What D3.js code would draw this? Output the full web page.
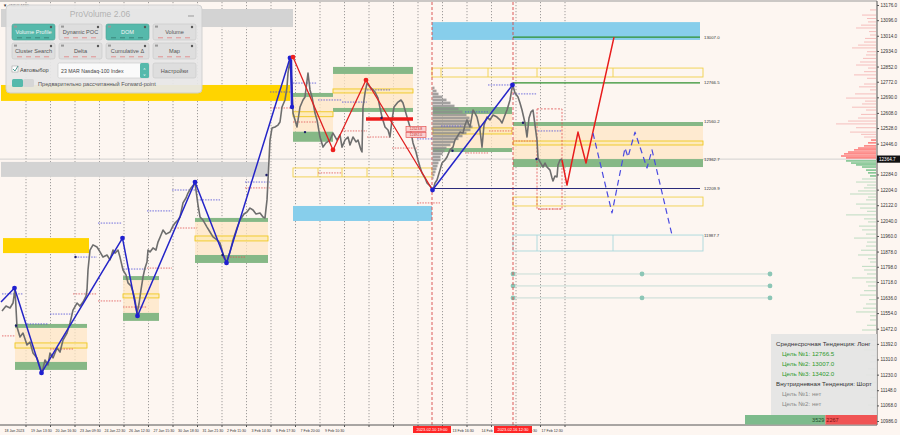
<!DOCTYPE html>
<html>
<head>
<meta charset="utf-8">
<script src="https://cdn.jsdelivr.net/npm/d3@7"></script>
<style>
  body { margin: 0; background: #fdf6f1; }
  svg text { font-family: "Liberation Sans", "DejaVu Sans", Arial, sans-serif; }
</style>
</head>
<body>
<svg id="chart" width="900" height="435"></svg>
<script>
// ---- data (bar index on x, price on y) ----
const yTicks = [13176, 13096, 13014, 12934, 12852, 12772, 12690, 12608, 12528, 12446, 12284, 12204, 12122,
  12040, 11960, 11878, 11798, 11718, 11636, 11554, 11472, 11392, 11310, 11230, 11148, 11068, 10986];
const lastPrice = 12364.7;

const timeTicks = [[-3, '18 Jan 2023'], [50, '19 Jan 13:30'], [99, '20 Jan 16:30'], [148, '23 Jan 09:30'],
  [197, '24 Jan 22:30'], [246, '26 Jan 12:30'], [295, '27 Jan 15:30'], [344, '30 Jan 18:30'],
  [393, '31 Jan 21:30'], [442, '2 Feb 11:30'], [491, '3 Feb 14:30'], [540, '6 Feb 17:30'],
  [589, '7 Feb 20:00'], [638, '9 Feb 10:30'], [893, '13 Feb 16:30'], [951, '14 Feb'],
  [1052, ':30'], [1071, '17 Feb 12:30']];
const gridBars = [50, 99, 148, 197, 246, 295, 344, 393, 442, 491, 540, 589, 638, 687, 736, 785, 834,
  883, 932, 981, 1030, 1079, 1128];
const markedDates = [[862, '2023.02.10 19:00'], [1024, '2023.02.16 12:30']];

const price = [[2,11565],[10,11591],[18,11581],[24,11607],[28,11681],[32,11481],[38,11428],[44,11449],[52,11386],
  [58,11402],[64,11344],[72,11318],[78,11270],[82,11239],[88,11307],[94,11281],[98,11344],[104,11318],[112,11370],
  [118,11349],[124,11412],[132,11449],[138,11502],[144,11570],[152,11607],[158,11591],[164,11612],[170,11644],
  [172,11676],[174,11781],[178,11886],[184,11913],[192,11902],[198,11876],[204,11849],[212,11860],[218,11834],
  [224,11886],[228,11870],[234,11886],[238,11849],[244,11781],[250,11755],[254,11713],[260,11697],[264,11665],
  [268,11623],[272,11554],[276,11602],[280,11676],[284,11744],[288,11792],[292,11823],[294,11886],[298,11876],
  [304,11897],[310,11886],[314,11928],[320,11965],[324,11991],[330,11970],[338,11981],[344,12013],[348,12028],
  [354,12044],[358,12060],[364,12134],[370,12160],[374,12186],[380,12213],[388,12239],[394,12123],[398,12060],
  [404,12044],[412,12007],[418,11981],[424,11955],[432,11939],[438,11923],[442,11886],[446,11844],[452,11823],
  [458,11876],[464,11939],[472,12002],[478,12044],[486,12076],[492,12086],[498,12107],[504,12097],[510,12076],
  [518,12081],[524,12060],[528,12055],[532,12150],[534,12255],[538,12465],[542,12528],[548,12534],[554,12544],
  [558,12560],[562,12639],[568,12676],[572,12744],[574,12818],[578,12886],[582,12744],[584,12607],[588,12571],
  [592,12534],[598,12639],[604,12676],[608,12692],[614,12818],[618,12729],[622,12692],[628,12607],[632,12571],
  [638,12481],[644,12428],[650,12450],[658,12465],[664,12502],[672,12465],[678,12492],[682,12428],[688,12465],
  [694,12481],[698,12439],[704,12481],[710,12455],[714,12465],[720,12413],[722,12402],[724,12639],[728,12713],
  [732,12765],[738,12744],[744,12729],[748,12718],[754,12686],[758,12634],[762,12586],[768,12534],[774,12518],
  [778,12481],[782,12571],[786,12639],[794,12665],[800,12676],[804,12660],[808,12623],[812,12586],[818,12534],
  [824,12450],[830,12402],[834,12360],[838,12323],[842,12292],[848,12265],[852,12239],[858,12223],[864,12202],
  [868,12239],[872,12255],[878,12307],[882,12344],[888,12360],[892,12376],[898,12413],[904,12428],[908,12465],
  [912,12481],[918,12507],[924,12502],[928,12544],[932,12571],[938,12534],[944,12623],[948,12607],[952,12586],
  [958,12518],[962,12428],[966,12544],[972,12586],[978,12571],[984,12597],[992,12586],[998,12571],[1002,12555],
  [1008,12597],[1012,12623],[1018,12676],[1022,12739],[1024,12750],[1028,12713],[1034,12692],[1038,12660],
  [1042,12623],[1048,12555],[1052,12481],[1056,12581],[1060,12613],[1064,12623],[1068,12544],[1072,12465],
  [1074,12371],[1078,12350],[1084,12323],[1088,12344],[1092,12323],[1098,12307],[1102,12265],[1104,12250],
  [1108,12276],[1112,12271],[1114,12334],[1118,12360],[1122,12365]];

const blueSwing = [[0,11612],[27,11686],[81,11239],[243,11949],[273,11539],[388,12244],[451,11818],[578,12897]];
const blueSwing2 = [[863,12202],[1023,12755]];
const blueSpike = [[580,12886],[582,12639]];
const redSwing = [[584,12902],[664,12413],[730,12781],[863,12202]];
const redForecast = [[1122,12360],[1132,12228],[1154,12507],[1170,12344],[1226,13007]];
const blueForecast = [[1184,12502],[1222,12081],[1248,12423],[1254,12376],[1268,12507],[1292,12318],
  [1302,12413],[1342,11965]];
const navyMarks = [[30,11488],[149,11849],[443,11860],[531,12281],[608,12507],[761,12581],[903,12409],
  [1044,12556],[1071,12365]];

const grayBands = [[0, 584, 13155, 13060], [0, 534, 12350, 12271]];
const goldBands = [[0, 578, 12755, 12671], [4, 176, 11949, 11870]];
const blueBands = [[584, 862, 12118, 12039], [862, 1398, 13086, 12992]];

// value areas: bars, upper green, POC, lower green
const valueAreas = [
  { from: 28, to: 172, top: [11497, 11476], poc: [11397, 11370], bot: [11297, 11255] },
  { from: 244, to: 316, top: [11749, 11728], poc: [11655, 11634], bot: [11555, 11513] },
  { from: 388, to: 534, top: [12055, 12034], poc: [11960, 11934], bot: [11860, 11818] },
  { from: 584, to: 664, top: [12713, 12692], poc: [12614, 12588], bot: [12509, 12456] },
  { from: 664, to: 824, top: [12850, 12813], poc: [12734, 12713], bot: [12634, 12613] },
  { from: 864, to: 1022, top: [12639, 12602], poc: [12529, 12497], bot: [12423, 12402] },
  { from: 1024, to: 1404, top: [12560, 12539], poc: [12460, 12439], bot: [12365, 12323] }
];
const yellowGrids = [
  { from: 584, to: 862, hi: 12318, lo: 12271, cuts: [634, 682, 732, 782] },
  { from: 862, to: 1404, hi: 12844, lo: 12797, cuts: [880, 974, 1072, 1224] },
  { from: 1024, to: 1404, hi: 12165, lo: 12118, cuts: [1072] }
];
const cyanGrid = { from: 1024, to: 1404, hi: 11965, lo: 11881, cuts: [1072, 1224] };

const greenTargets = [[1024, 1398, 13007.0], [1024, 1398, 12766.5]];
const navyLevel = [862, 1398, 12209.9];
const levelLabels = [[13007.0, '13007.0'], [12766.5, '12766.5'], [12560.2, '12560.2'], [12362.7, '12362.7'],
  [12209.9, '12209.9'], [11965, '11987.7']];
const tealLevels = [11760, 11697, 11634];
const tealDots = [[1024,11760],[1282,11760],[1538,11760],[1024,11697],[1538,11697],[1024,11634],[1282,11634],[1538,11634]];
const redBar = [730, 824, 12576];
const redBoxes = [[810, 850, 12523, '12523.8'], [810, 850, 12492, '12492.0']];
const redDashedBox = [1072, 1122, 12629, 12102];

const blueLevels = [[2,44,11655],[52,94,11497],[98,142,11549],[148,192,11849],[194,242,12028],[244,292,11786],
  [292,342,12092],[342,392,12202],[392,438,12150],[488,538,12244],[538,582,12718],[584,632,12765],[634,682,12676],
  [682,732,12665],[732,778,12729],[832,862,12471],[880,924,12539],[928,974,12613],[974,1022,12755],
  [1024,1072,12708],[1074,1122,12513]];
const redLevels = [[2,28,11434],[98,144,11365],[144,192,11655],[194,242,11618],[244,292,11586],[292,342,11791],
  [342,392,12002],[442,488,11849],[488,538,12213],[538,582,12634],[584,632,12560],[634,682,12292],
  [682,732,12513],[732,778,12481],[782,832,12423],[832,878,12134],[928,974,12397],[976,1022,12513],
  [1024,1072,12460],[1074,1122,12102]];

// session volume histogram starting at 10 Feb
const sessionProfile = [[12739,2],[12723,4],[12707,6],[12692,10],[12676,14],[12660,18],[12644,22],[12629,26],
  [12613,30],[12597,34],[12581,37],[12565,38],[12550,36],[12534,40],[12518,38],[12502,34],[12486,30],[12471,26],
  [12455,22],[12439,18],[12423,14],[12407,12],[12392,10],[12376,8],[12360,8],[12344,6],[12328,5],[12313,4],
  [12297,3],[12281,2],[12265,1]];

// right edge market profile
const rpAbove = [[13150,6],[13123,14],[13105,9],[13087,8],[13070,15],[13055,20],[13036,7],[13018,6],[13000,11],
  [12981,12],[12965,18],[12950,24],[12930,9],[12913,10],[12895,13],[12876,16],[12860,20],[12844,8],[12825,12],
  [12808,22],[12790,9],[12760,12],[12745,17],[12729,6],[12708,21],[12686,30],[12670,11],[12655,14],[12638,24],
  [12623,10],[12600,15],[12581,18],[12565,28],[12550,40],[12530,20],[12507,26],[12495,15],[12481,12]];
const rpSell = [[12465,5],[12450,8],[12434,12],[12423,18],[12413,22],[12402,28],[12392,32],[12381,35],[12371,30]];
const rpBuy = [[12355,30],[12344,25],[12334,20],[12323,14],[12307,10],[12292,8],[12276,6]];
const rpBelow = [[12260,14],[12244,20],[12228,9],[12213,12],[12197,18],[12181,26],[12165,8],[12150,10],[12128,20],
  [12107,16],[12090,9],[12071,30],[12050,12],[12034,8],[12012,17],[11992,14],[11970,10],[11949,22],[11928,9],
  [11907,10],[11885,15],[11860,18],[11840,8],[11823,6],[11800,14],[11781,12],[11760,9],[11739,24],[11718,10],
  [11697,8],[11672,12],[11649,16],[11625,7],[11602,10],[11580,13],[11560,20],[11540,6],[11518,6],[11490,9],
  [11465,14],[11440,6],[11412,8],[11385,10],[11360,12],[11330,5],[11297,6],[11260,8],[11228,10],[11190,4],
  [11149,5],[11110,6],[11070,8],[11030,4]];

const buyVolume = 3529, sellVolume = 2267;

const infoLines = [
  ['Среднесрочная Тенденция: Лонг', 'head'], ['Цель №1: 12766.5', 'good'], ['Цель №2: 13007.0', 'good'],
  ['Цель №3: 13402.0', 'good'], ['Внутридневная Тенденция: Шорт', 'head'], ['Цель №1: нет', 'none'],
  ['Цель №2: нет', 'none']
];
const panelButtons = [['Volume Profile', true], ['Dynamic POC', false], ['DOM', true], ['Volume', false],
  ['Cluster Search', false], ['Delta', false], ['Cumulative Δ', false], ['Map', false]];

// ---- drawing ----
const svg = d3.select('#chart');
const plotRight = 877, plotBottom = 425;
const x = d3.scaleLinear().domain([0, 1752]).range([1, plotRight]);
const y = d3.scaleLinear().domain([10986, 13176]).range([421, 5]);
const line = d3.line().x(d => x(d[0])).y(d => y(d[1]));

svg.append('rect').attr('width', 900).attr('height', 435).attr('fill', '#fdf6f1');

// vertical dotted grid
svg.append('g').selectAll('line').data(gridBars).join('line')
  .attr('x1', d => x(d)).attr('x2', d => x(d)).attr('y1', 2).attr('y2', plotBottom)
  .attr('stroke', '#777').attr('stroke-width', 0.7).attr('stroke-dasharray', '1.2,1.8');

function bands(arr, fill) {
  svg.append('g').selectAll('rect').data(arr).join('rect')
    .attr('x', d => x(d[0])).attr('width', d => x(d[1]) - x(d[0]))
    .attr('y', d => y(d[2])).attr('height', d => y(d[3]) - y(d[2]))
    .attr('fill', fill);
}
bands(grayBands, '#d3d3d3');
bands(goldBands, '#ffd400');
bands(blueBands, '#87ceeb');

// current price line
svg.append('line').attr('x1', 0).attr('x2', plotRight).attr('y1', y(lastPrice)).attr('y2', y(lastPrice))
  .attr('stroke', '#c8c8c8').attr('stroke-width', 0.8);

// value areas
const va = svg.append('g');
va.selectAll('.fill').data(valueAreas).join('rect')
  .attr('x', d => x(d.from)).attr('width', d => x(d.to) - x(d.from))
  .attr('y', d => y(d.top[1])).attr('height', d => y(d.bot[0]) - y(d.top[1]))
  .attr('fill', '#fde6c4').attr('opacity', 0.75);
['top', 'bot'].forEach(k => {
  va.selectAll('.g' + k).data(valueAreas).join('rect')
    .attr('x', d => x(d.from)).attr('width', d => x(d.to) - x(d.from))
    .attr('y', d => y(d[k][0])).attr('height', d => y(d[k][1]) - y(d[k][0]))
    .attr('fill', '#86b886');
});
va.selectAll('.poc').data(valueAreas).join('rect')
  .attr('x', d => x(d.from)).attr('width', d => x(d.to) - x(d.from))
  .attr('y', d => y(d.poc[0])).attr('height', d => y(d.poc[1]) - y(d.poc[0]))
  .attr('fill', 'rgba(255,236,150,0.35)').attr('stroke', '#f0c820').attr('stroke-width', 0.9);

function gridRect(d, color) {
  const g = svg.append('g');
  g.append('rect').attr('x', x(d.from)).attr('width', x(d.to) - x(d.from))
    .attr('y', y(d.hi)).attr('height', y(d.lo) - y(d.hi))
    .attr('fill', 'none').attr('stroke', color).attr('stroke-width', 0.9);
  g.selectAll('line').data(d.cuts).join('line')
    .attr('x1', c => x(c)).attr('x2', c => x(c)).attr('y1', y(d.hi)).attr('y2', y(d.lo))
    .attr('stroke', color).attr('stroke-width', 0.9);
}
yellowGrids.forEach(d => gridRect(d, '#f0d04a'));
gridRect(cyanGrid, '#a8d8dc');

// teal levels with dots
svg.append('g').selectAll('line').data(tealLevels).join('line')
  .attr('x1', x(1024)).attr('x2', x(1538)).attr('y1', d => y(d)).attr('y2', d => y(d))
  .attr('stroke', '#b9d6cf').attr('stroke-width', 0.8);
svg.append('g').selectAll('circle').data(tealDots).join('circle')
  .attr('cx', d => x(d[0])).attr('cy', d => y(d[1])).attr('r', 2.4).attr('fill', '#8cc6b6');

// red dashed session separators
svg.append('g').selectAll('line').data(markedDates).join('line')
  .attr('x1', d => x(d[0])).attr('x2', d => x(d[0])).attr('y1', 2).attr('y2', plotBottom)
  .attr('stroke', '#d84848').attr('stroke-width', 0.9).attr('stroke-dasharray', '3,2');

// session volume histogram
const histW = d3.scaleLinear().domain([0, 40]).range([0, 40]);
svg.append('g').selectAll('rect').data(sessionProfile).join('rect')
  .attr('x', x(863)).attr('width', d => histW(d[1]))
  .attr('y', d => y(d[0]) - 1.4).attr('height', 2.6)
  .attr('fill', '#8c8c8c').attr('opacity', 0.8);

// short daily levels
function levels(arr, color) {
  svg.append('g').selectAll('line').data(arr).join('line')
    .attr('x1', d => x(d[0])).attr('x2', d => x(d[1])).attr('y1', d => y(d[2])).attr('y2', d => y(d[2]))
    .attr('stroke', color).attr('stroke-width', 0.8).attr('stroke-dasharray', '1.5,1.2');
}
levels(blueLevels, '#4b4bd8');
levels(redLevels, '#e05050');

svg.append('rect').attr('x', x(redDashedBox[0])).attr('width', x(redDashedBox[1]) - x(redDashedBox[0]))
  .attr('y', y(redDashedBox[2])).attr('height', y(redDashedBox[3]) - y(redDashedBox[2]))
  .attr('fill', 'none').attr('stroke', '#e05050').attr('stroke-width', 0.8).attr('stroke-dasharray', '2,1.5');

// target lines
svg.append('g').selectAll('line').data(greenTargets).join('line')
  .attr('x1', d => x(d[0])).attr('x2', d => x(d[1])).attr('y1', d => y(d[2])).attr('y2', d => y(d[2]))
  .attr('stroke', '#2f8f2f').attr('stroke-width', 1.2);
svg.append('line').attr('x1', x(navyLevel[0])).attr('x2', x(navyLevel[1]))
  .attr('y1', y(navyLevel[2])).attr('y2', y(navyLevel[2]))
  .attr('stroke', '#2a2a7a').attr('stroke-width', 1.1);
svg.append('g').selectAll('text').data(levelLabels).join('text')
  .attr('x', x(1404) + 1).attr('y', d => y(d[0])).attr('dy', '0.35em')
  .attr('font-size', 4.3).attr('fill', '#333').text(d => d[1]);

// price
svg.append('path').datum(price).attr('d', line)
  .attr('fill', 'none').attr('stroke', '#6e6e6e').attr('stroke-width', 1.6).attr('stroke-linejoin', 'round');

// thick red level and labels
svg.append('line').attr('x1', x(redBar[0])).attr('x2', x(redBar[1])).attr('y1', y(redBar[2])).attr('y2', y(redBar[2]))
  .attr('stroke', '#ee1c1c').attr('stroke-width', 3.6);
const rb = svg.append('g').selectAll('g').data(redBoxes).join('g');
rb.append('rect').attr('x', d => x(d[0])).attr('width', d => x(d[1]) - x(d[0]))
  .attr('y', d => y(d[2]) - 2.6).attr('height', 5.2)
  .attr('fill', '#fbd0d0').attr('stroke', '#e04040').attr('stroke-width', 0.6);
rb.append('text').attr('x', d => (x(d[0]) + x(d[1])) / 2).attr('y', d => y(d[2])).attr('dy', '0.35em')
  .attr('text-anchor', 'middle').attr('font-size', 3.4).attr('fill', '#c02020').text(d => d[3]);

// zigzags
function path(data, color, width, dash) {
  const p = svg.append('path').datum(data).attr('d', line).attr('fill', 'none')
    .attr('stroke', color).attr('stroke-width', width).attr('stroke-linejoin', 'round');
  if (dash) p.attr('stroke-dasharray', dash);
}
path(blueSwing, '#2424c8', 1.5);
path(blueSwing2, '#2424c8', 1.5);
path(blueSpike, '#2424c8', 2.4);
path(redSwing, '#e02020', 1.3);
path(redForecast, '#e81c1c', 1.5);
path(blueForecast, '#4a4ae0', 1.2, '6,4');

function dots(data, color, r) {
  svg.append('g').selectAll('circle').data(data).join('circle')
    .attr('cx', d => x(d[0])).attr('cy', d => y(d[1])).attr('r', r).attr('fill', color);
}
dots(navyMarks, '#1c1c6a', 1.2);
dots(blueSwing.slice(1), '#1f1fd0', 2.4);
dots(blueSwing2, '#1f1fd0', 2.4);
dots(blueSpike.slice(1), '#1f1fd0', 2.2);
dots(redSwing.slice(0, 3), '#ee2020', 2.4);

// right market profile
const vp = d3.scaleLinear().domain([0, 40]).range([0, 40]);
function profile(data, color, op) {
  svg.append('g').selectAll('line').data(data).join('line')
    .attr('x1', plotRight - 1).attr('x2', d => plotRight - 1 - vp(d[1]))
    .attr('y1', d => y(d[0])).attr('y2', d => y(d[0]))
    .attr('stroke', color).attr('stroke-width', 1).attr('opacity', op);
}
profile(rpAbove, '#f2a2a2', 0.65);
profile(rpBelow, '#9ccfa8', 0.65);
profile(rpSell, '#ff2a2a', 0.9);
profile(rpBuy, '#23a04a', 0.9);

// frame and axes
svg.append('line').attr('x1', 0).attr('x2', plotRight).attr('y1', 1).attr('y2', 1).attr('stroke', '#999');
svg.append('line').attr('x1', 0).attr('x2', plotRight).attr('y1', plotBottom).attr('y2', plotBottom).attr('stroke', '#555');
svg.append('line').attr('x1', plotRight).attr('x2', plotRight).attr('y1', 1).attr('y2', plotBottom).attr('stroke', '#555');

const yAxis = d3.axisRight(y).tickValues(yTicks).tickFormat(d3.format('.1f')).tickSize(2).tickPadding(1.5);
svg.append('g').attr('transform', `translate(${plotRight},0)`).call(yAxis)
  .call(g => g.select('.domain').remove())
  .call(g => g.selectAll('line').attr('stroke', '#555'))
  .call(g => g.selectAll('text').attr('font-size', 4.6).attr('fill', '#333')
    .attr('font-family', '"Liberation Sans", "DejaVu Sans", sans-serif'));

svg.append('rect').attr('x', plotRight).attr('y', y(lastPrice) - 3.6).attr('width', 23).attr('height', 7.2).attr('fill', '#111');
svg.append('text').attr('x', plotRight + 2).attr('y', y(lastPrice)).attr('dy', '0.35em')
  .attr('font-size', 4.6).attr('fill', '#fff').text(lastPrice.toFixed(1));

const xt = svg.append('g');
xt.selectAll('line').data(gridBars).join('line')
  .attr('x1', d => x(d)).attr('x2', d => x(d)).attr('y1', plotBottom).attr('y2', plotBottom + 2).attr('stroke', '#555');
xt.selectAll('text').data(timeTicks).join('text')
  .attr('x', d => x(d[0]) + 5).attr('y', 431.5).attr('font-size', 3.6).attr('fill', '#333').text(d => d[1]);
const md = svg.append('g').selectAll('g').data(markedDates).join('g');
md.append('rect').attr('x', d => x(d[0]) - 19).attr('y', 426).attr('width', 38).attr('height', 7).attr('fill', '#ff2626');
md.append('text').attr('x', d => x(d[0])).attr('y', 431.3).attr('text-anchor', 'middle')
  .attr('font-size', 4).attr('fill', '#fff').text(d => d[1]);

svg.append('text').attr('x', 3).attr('y', 7).attr('font-size', 4.2).attr('fill', '#333').text('▼ #NDX,M30');

// delta bar
const dx = d3.scaleLinear().domain([0, buyVolume + sellVolume]).range([745, plotRight]);
svg.append('rect').attr('x', dx(0)).attr('width', dx(buyVolume) - dx(0)).attr('y', 415).attr('height', 9.5).attr('fill', '#7dbb8c');
svg.append('rect').attr('x', dx(buyVolume)).attr('width', dx(buyVolume + sellVolume) - dx(buyVolume)).attr('y', 415).attr('height', 9.5).attr('fill', '#f05454');
svg.append('text').attr('x', dx(buyVolume) - 1).attr('y', 422).attr('text-anchor', 'end').attr('font-size', 5.5).attr('fill', '#1f4f2a').text(buyVolume);
svg.append('text').attr('x', dx(buyVolume) + 1).attr('y', 422).attr('font-size', 5.5).attr('fill', '#7a1010').text(sellVolume);

// info box
svg.append('rect').attr('x', 771).attr('y', 334).attr('width', plotRight - 771).attr('height', 81)
  .attr('fill', '#e4e4e4').attr('opacity', 0.92);
svg.append('g').selectAll('text').data(infoLines).join('text')
  .attr('x', d => d[1] === 'head' ? 776 : 782).attr('y', (d, i) => 346 + i * 10)
  .attr('font-size', 6.2)
  .attr('fill', d => d[1] === 'head' ? '#333' : d[1] === 'good' ? '#2e9a2e' : '#8a8a8a')
  .text(d => d[0]);

// ProVolume panel
const panel = svg.append('g');
panel.append('rect').attr('x', 6).attr('y', 5).attr('width', 196).attr('height', 88).attr('rx', 4)
  .attr('fill', '#e8e8e8').attr('opacity', 0.93).attr('stroke', '#cfcfcf');
panel.append('text').attr('x', 100).attr('y', 17).attr('text-anchor', 'middle').attr('font-size', 8.5)
  .attr('fill', '#b2b2b2').text('ProVolume 2.06');
panel.append('line').attr('x1', 188).attr('x2', 194).attr('y1', 16).attr('y2', 16).attr('stroke', '#999');
const btn = panel.selectAll('.btn').data(panelButtons).join('g')
  .attr('transform', (d, i) => `translate(${12 + (i % 4) * 47},${24 + Math.floor(i / 4) * 19})`);
btn.append('rect').attr('width', 43).attr('height', 16).attr('rx', 2)
  .attr('fill', d => d[1] ? '#56b9ab' : '#dedede').attr('stroke', d => d[1] ? '#4aa396' : '#c6c6c6').attr('stroke-width', 0.6);
btn.append('circle').attr('cx', 39).attr('cy', 3).attr('r', 1.2).attr('fill', '#555');
btn.append('rect').attr('x', 2).attr('y', 1.6).attr('width', 3).attr('height', 2).attr('fill', '#999');
btn.append('text').attr('x', 21.5).attr('y', 10).attr('text-anchor', 'middle').attr('font-size', 5.6)
  .attr('fill', d => d[1] ? '#f4f4f4' : '#555').text(d => d[0]);
[0, 1, 2, 3].forEach(k => {
  btn.append('line').attr('x1', 5 + k * 9).attr('x2', 10 + k * 9).attr('y1', 13.8).attr('y2', 13.8)
    .attr('stroke', d => d[1] ? '#2f6f67' : '#e27070').attr('stroke-width', 0.7);
});
panel.append('rect').attr('x', 12).attr('y', 66).attr('width', 6).attr('height', 6).attr('fill', '#fff').attr('stroke', '#999').attr('stroke-width', 0.5);
panel.append('path').attr('d', 'M13,69 L15,71 L18,66').attr('fill', 'none').attr('stroke', '#3a8f84').attr('stroke-width', 0.9);
panel.append('text').attr('x', 20).attr('y', 71.5).attr('font-size', 5.6).attr('fill', '#444').text('Автовыбор');
panel.append('rect').attr('x', 58).attr('y', 63).attr('width', 91).attr('height', 15).attr('rx', 1.5)
  .attr('fill', '#fafafa').attr('stroke', '#c8c8c8').attr('stroke-width', 0.6);
panel.append('text').attr('x', 61).attr('y', 72.5).attr('font-size', 5.2).attr('fill', '#444').text('23 MAR Nasdaq-100 Index');
panel.append('rect').attr('x', 140).attr('y', 63).attr('width', 9).attr('height', 15).attr('rx', 1.5).attr('fill', '#56b9ab');
panel.append('text').attr('x', 144.5).attr('y', 69.5).attr('text-anchor', 'middle').attr('font-size', 4).attr('fill', '#fff').text('˄');
panel.append('text').attr('x', 144.5).attr('y', 75.5).attr('text-anchor', 'middle').attr('font-size', 4).attr('fill', '#fff').text('˅');
panel.append('rect').attr('x', 153).attr('y', 63).attr('width', 43).attr('height', 15).attr('rx', 2)
  .attr('fill', '#dedede').attr('stroke', '#c6c6c6').attr('stroke-width', 0.6);
panel.append('text').attr('x', 174.5).attr('y', 72.5).attr('text-anchor', 'middle').attr('font-size', 5.6).attr('fill', '#555').text('Настройки');
panel.append('rect').attr('x', 12).attr('y', 79).attr('width', 11).attr('height', 8).attr('rx', 1.5).attr('fill', '#56b9ab');
panel.append('rect').attr('x', 23).attr('y', 79).attr('width', 11).attr('height', 8).attr('rx', 1.5).attr('fill', '#d6d6d6');
panel.append('text').attr('x', 38).attr('y', 85.5).attr('font-size', 5.6).attr('fill', '#555')
  .text('Предварительно рассчитанный Forward-point');
</script>
</body>
</html>
